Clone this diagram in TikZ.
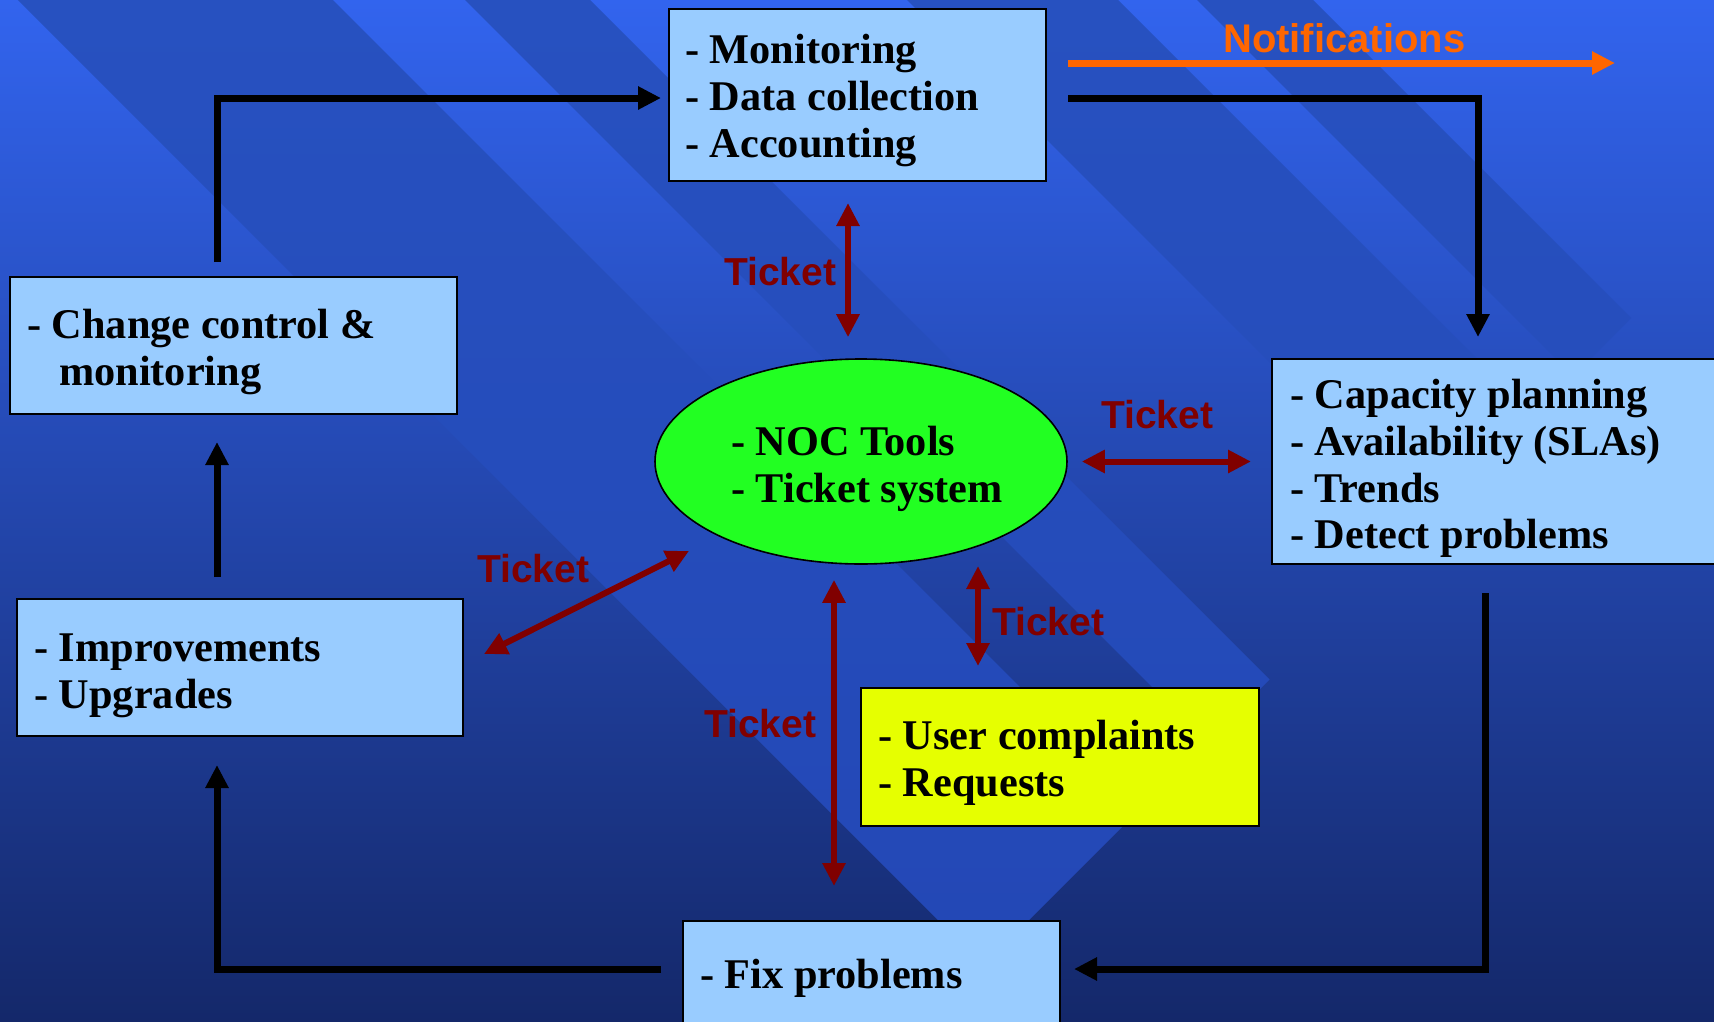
\documentclass[tikz,border=0pt]{standalone}
\usepackage{fontspec}
\setmainfont{Liberation Serif}
\newfontfamily\labelfont{Liberation Sans}
\usetikzlibrary{arrows.meta,shapes.geometric}

\definecolor{bgtop}{HTML}{3264EE}
\definecolor{bgbot}{HTML}{14286A}
\definecolor{bandtop}{HTML}{2751C0}
\definecolor{bandbot}{HTML}{2347B5}
\definecolor{boxblue}{HTML}{99CCFF}
\definecolor{nocgreen}{HTML}{22FF22}
\definecolor{usryellow}{HTML}{E6FF00}
\definecolor{tkred}{HTML}{800000}
\definecolor{notiforange}{HTML}{FF6600}

\begin{document}
\begin{tikzpicture}[x=1pt,y=-1pt,
  panel/.style={rectangle,draw=black,line width=2pt,fill=boxblue,inner sep=0pt},
  itemtext/.style={anchor=base west,inner sep=0pt,text=black,
    font=\fontsize{42.3}{47}\selectfont\bfseries},
  ticklabel/.style={anchor=base west,inner sep=0pt,text=tkred,
    font=\labelfont\fontsize{39}{44}\selectfont\bfseries},
  bigtip/.tip={Triangle[length=23pt,width=22pt]},
  flow/.style={draw=black,line width=7pt,line join=miter,-bigtip},
  tk/.style={draw=tkred,line width=6pt,bigtip-bigtip},
]
\useasboundingbox (0,0) rectangle (1714,1021);
\clip (0,0) rectangle (1714,1021);

% background: vertical gradient
\shade[top color=bgtop,bottom color=bgbot] (0,0) rectangle (1714,1021);

% diagonal bands, cut off along x+y=1949
\begin{scope}
  \clip (0,0) -- (1949,0) -- (0,1949) -- cycle;
  \clip (-200,-218)  -- (2200,2182) -- (2200,1867) -- (-200,-533)  -- cycle
        (-200,-665)  -- (2200,1735) -- (2200,1610) -- (-200,-790)  -- cycle
        (-200,-1107) -- (2200,1293) -- (2200,1082) -- (-200,-1318) -- cycle
        (-200,-1397) -- (2200,1003) -- (2200,887)  -- (-200,-1513) -- cycle;
  \shade[top color=bandtop,bottom color=bandbot] (0,0) rectangle (1714,1021);
\end{scope}

% boxes
\node[panel,minimum width=377pt,minimum height=172pt] (mon) at (857.5,95) {};
\node[panel,minimum width=447pt,minimum height=137pt] (chg) at (233.5,345.5) {};
\node[panel,minimum width=446pt,minimum height=137pt] (imp) at (240,667.5) {};
\node[ellipse,draw=black,line width=1.6pt,fill=nocgreen,inner sep=0pt,
      minimum width=412pt,minimum height=205pt] (noc) at (861,461.5) {};
\node[panel,minimum width=458pt,minimum height=205pt] (cap) at (1501,461.5) {};
\node[panel,fill=usryellow,minimum width=398pt,minimum height=138pt] (usr) at (1060,757) {};
\node[panel,minimum width=377pt,minimum height=119pt] (fix) at (871.5,980.5) {};

% box texts
\node[itemtext] (monA) at (685,63)  {- Monitoring};
\node[itemtext] (monB) at (685,110) {- Data collection};
\node[itemtext] (monC) at (685,157) {- Accounting};

\node[itemtext] (chgA) at (27,338) {- Change control \&};
\node[itemtext] (chgB) at (59,385) {monitoring};

\node[itemtext] (impA) at (34,661) {- Improvements};
\node[itemtext] (impB) at (34,708) {- Upgrades};

\node[itemtext] (nocA) at (731,455) {- NOC Tools};
\node[itemtext] (nocB) at (731,502) {- Ticket system};

\node[itemtext] (capA) at (1290,408) {- Capacity planning};
\node[itemtext] (capB) at (1290,455) {- Availability (SLAs)};
\node[itemtext] (capC) at (1290,502) {- Trends};
\node[itemtext] (capD) at (1290,548) {- Detect problems};

\node[itemtext] (usrA) at (878,749) {- User complaints};
\node[itemtext] (usrB) at (878,796) {- Requests};

\node[itemtext] (fixA) at (700,988) {- Fix problems};

% main cycle
\draw[flow,shorten <=14pt,shorten >=7pt]
  ([xshift=-16.5pt]chg.north) |- ([yshift=-3pt]mon.west);
\draw[flow,shorten <=21pt,shorten >=21pt]
  ([yshift=-3pt]mon.east) -| ([xshift=-23pt]cap.north);
\draw[flow,shorten <=28pt,shorten >=13pt]
  ([xshift=-16pt]cap.south) |- ([yshift=11.5pt]fix.east);
\draw[flow,shorten <=21pt,shorten >=28pt]
  ([yshift=11.5pt]fix.west) -| ([xshift=-23pt]imp.south);
\draw[flow,shorten <=21pt,shorten >=27pt]
  ([xshift=-23pt]imp.north) -- ([xshift=-16.5pt]chg.south);

% notifications
\coordinate (ntip) at (1615,63);
\draw[draw=notiforange,line width=7pt,
      -{Triangle[length=23pt,width=22pt]},shorten <=21pt]
  ([yshift=32pt]mon.east) -- (ntip);
\node[anchor=base west,inner sep=0pt,text=notiforange,
      font=\labelfont\fontsize{40}{45}\selectfont\bfseries] (notif) at (1223,52) {Notifications};

% ticket exchanges
\draw[tk,shorten <=21pt,shorten >=21pt]
  ([xshift=-9.5pt]mon.south) -- ([xshift=-13pt]noc.north);
\draw[tk,shorten <=14pt,shorten >=20pt] (noc.east) -- (cap.west);
\coordinate (r3a) at (484,654);
\coordinate (r3b) at (689,551);
\draw[tk] (r3a) -- (r3b);
\coordinate (r4top) at (978,566);
\draw[tk,shorten >=21pt] (r4top) -- ([xshift=-82pt]usr.north);
\draw[tk,shorten <=15pt,shorten >=34pt]
  ([xshift=-27pt]noc.south) -- ([xshift=-37.5pt]fix.north);

\node[ticklabel] (tkA) at (724,285)  {Ticket};
\node[ticklabel] (tkB) at (1101,428) {Ticket};
\node[ticklabel] (tkC) at (477,582)  {Ticket};
\node[ticklabel] (tkD) at (992,635)  {Ticket};
\node[ticklabel] (tkE) at (704,737)  {Ticket};
\end{tikzpicture}
\end{document}
